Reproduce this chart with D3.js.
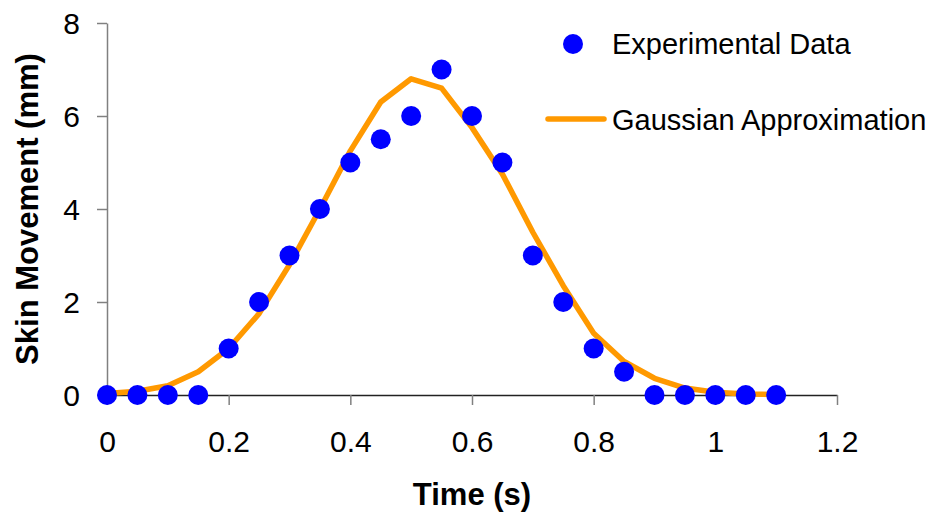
<!DOCTYPE html>
<html>
<head>
<meta charset="utf-8">
<script src="https://cdn.jsdelivr.net/npm/d3@7"></script>
<style>
  body { margin: 0; background: #fff; }
  svg { display: block; font-family: "Liberation Sans", Arial, sans-serif; }
</style>
</head>
<body>
<svg id="chart" width="932" height="514"></svg>
<script>
// time samples (s)
const times = [0, 0.05, 0.1, 0.15, 0.2, 0.25, 0.3, 0.35, 0.4, 0.45, 0.5, 0.55,
               0.6, 0.65, 0.7, 0.75, 0.8, 0.85, 0.9, 0.95, 1.0, 1.05, 1.1];
// measured skin movement (mm)
const experimental = [0, 0, 0, 0, 1, 2, 3, 4, 5, 5.5, 6, 7,
                      6, 5, 3, 2, 1, 0.5, 0, 0, 0, 0, 0];
// fitted curve (mm)
const gaussian = [0.03, 0.08, 0.2, 0.5, 1.0, 1.75, 2.8, 4.0, 5.25, 6.3, 6.8, 6.6,
                  5.75, 4.75, 3.5, 2.35, 1.33, 0.72, 0.36, 0.15, 0.06, 0.02, 0.01];
const xTicks = [0, 0.2, 0.4, 0.6, 0.8, 1, 1.2];
const yTicks = [0, 2, 4, 6, 8];
const seriesNames = ["Experimental Data", "Gaussian Approximation"];

const svg = d3.select("#chart");
const plotL = 107, plotR = 837, plotT = 23, plotB = 395;
const fontSize = 29, tickFont = 30, titleFont = 31;

const x = d3.scaleLinear().domain([0, 1.2]).range([plotL, plotR]);
const y = d3.scaleLinear().domain([0, 8]).range([plotB, plotT]);

// y axis
const yAxis = svg.append("g")
    .attr("transform", `translate(${plotL},0)`)
    .call(d3.axisLeft(y).tickValues(yTicks).tickSize(10).tickSizeOuter(0).tickFormat(d3.format("~g")));
yAxis.select(".domain").attr("stroke", "#808080").attr("stroke-width", 1.5);
yAxis.selectAll(".tick line").attr("stroke", "#808080").attr("stroke-width", 1.5);
yAxis.selectAll(".tick text")
    .attr("x", -27).attr("dy", "0.36em")
    .attr("font-size", tickFont).attr("fill", "#000")
    .attr("font-family", "Liberation Sans, Arial, sans-serif");

// x axis
const xAxis = svg.append("g")
    .attr("transform", `translate(0,${plotB})`)
    .call(d3.axisBottom(x).tickValues(xTicks).tickSize(10).tickSizeOuter(0).tickFormat(d3.format("~g")));
xAxis.select(".domain").attr("stroke", "#222").attr("stroke-width", 1.5);
xAxis.selectAll(".tick line").attr("stroke", "#808080").attr("stroke-width", 1.5);
xAxis.selectAll(".tick text")
    .attr("y", 57).attr("dy", 0)
    .attr("font-size", tickFont).attr("fill", "#000")
    .attr("font-family", "Liberation Sans, Arial, sans-serif");

// axis titles
svg.append("text")
    .attr("x", (plotL + plotR) / 2).attr("y", 505)
    .attr("text-anchor", "middle")
    .attr("font-size", titleFont).attr("font-weight", "bold")
    .text("Time (s)");

svg.append("text")
    .attr("transform", `translate(38,${(plotT + plotB) / 2}) rotate(-90)`)
    .attr("text-anchor", "middle")
    .attr("font-size", titleFont).attr("font-weight", "bold")
    .text("Skin Movement (mm)");

// gaussian line
const line = d3.line()
    .x((d, i) => x(times[i]))
    .y(d => y(d));

svg.append("path")
    .datum(gaussian)
    .attr("fill", "none")
    .attr("stroke", "#FF9900")
    .attr("stroke-width", 5.5)
    .attr("stroke-linejoin", "round")
    .attr("d", line);

// experimental points
svg.append("g")
    .selectAll("circle")
    .data(experimental)
    .enter()
    .append("circle")
    .attr("cx", (d, i) => x(times[i]))
    .attr("cy", d => y(d))
    .attr("r", 10)
    .attr("fill", "#0000FF");

// legend
const legend = svg.append("g");
legend.append("circle")
    .attr("cx", 573).attr("cy", 44).attr("r", 10)
    .attr("fill", "#0000FF");
legend.append("text")
    .attr("x", 612).attr("y", 54)
    .attr("font-size", fontSize)
    .text(seriesNames[0]);
legend.append("line")
    .attr("x1", 548).attr("x2", 604)
    .attr("y1", 119).attr("y2", 119)
    .attr("stroke", "#FF9900").attr("stroke-width", 5.5)
    .attr("stroke-linecap", "round");
legend.append("text")
    .attr("x", 612).attr("y", 130)
    .attr("font-size", fontSize)
    .text(seriesNames[1]);
</script>
</body>
</html>
